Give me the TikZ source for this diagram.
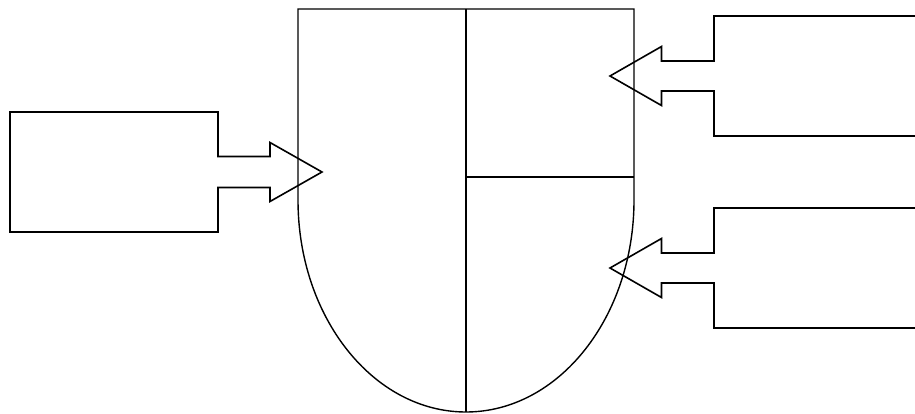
\documentclass[tikz,border=0pt]{standalone}
\begin{document}
\begin{tikzpicture}[x=1pt,y=-1pt,
  outline/.style={draw=black,line width=1.6pt,line join=miter,fill=none},
  thinline/.style={draw=black,line width=1.4pt}]
\useasboundingbox (0,0) rectangle (915,414);
% shield
\coordinate (shTL) at (298,9);
\coordinate (shTR) at (634,9);
\coordinate (shR) at (634,200);
\coordinate (shTop) at (466,9);
\coordinate (shBot) at (466,412);
\coordinate (midL) at (466,177);
\coordinate (midR) at (634,177);
\draw[thinline] (shR) -- (shTR) -- (shTL) -- (298,200)
  arc[start angle=180,end angle=0,x radius=168,y radius=212] -- cycle;
\draw[thinline] (shTop) -- (shBot);
\draw[thinline] (midL) -- (midR);
% left callout
\draw[outline] (218,156.5) -- (218,112) -- (10,112) -- (10,232) -- (218,232)
  -- (218,187.5) -- (270,187.5) -- (270,201.5) -- (322,172) -- (270,142.5)
  -- (270,156.5) -- cycle;
% upper right callout
\draw[outline] (915,16) -- (714,16) -- (714,61) -- (661.5,61) -- (661.5,46.5)
  -- (610,76) -- (661.5,105.5) -- (661.5,91) -- (714,91) -- (714,136) -- (915,136);
% lower right callout
\draw[outline] (915,208) -- (714,208) -- (714,253) -- (661.5,253) -- (661.5,238.5)
  -- (610,268) -- (661.5,297.5) -- (661.5,283) -- (714,283) -- (714,328) -- (915,328);
\end{tikzpicture}
\end{document}
